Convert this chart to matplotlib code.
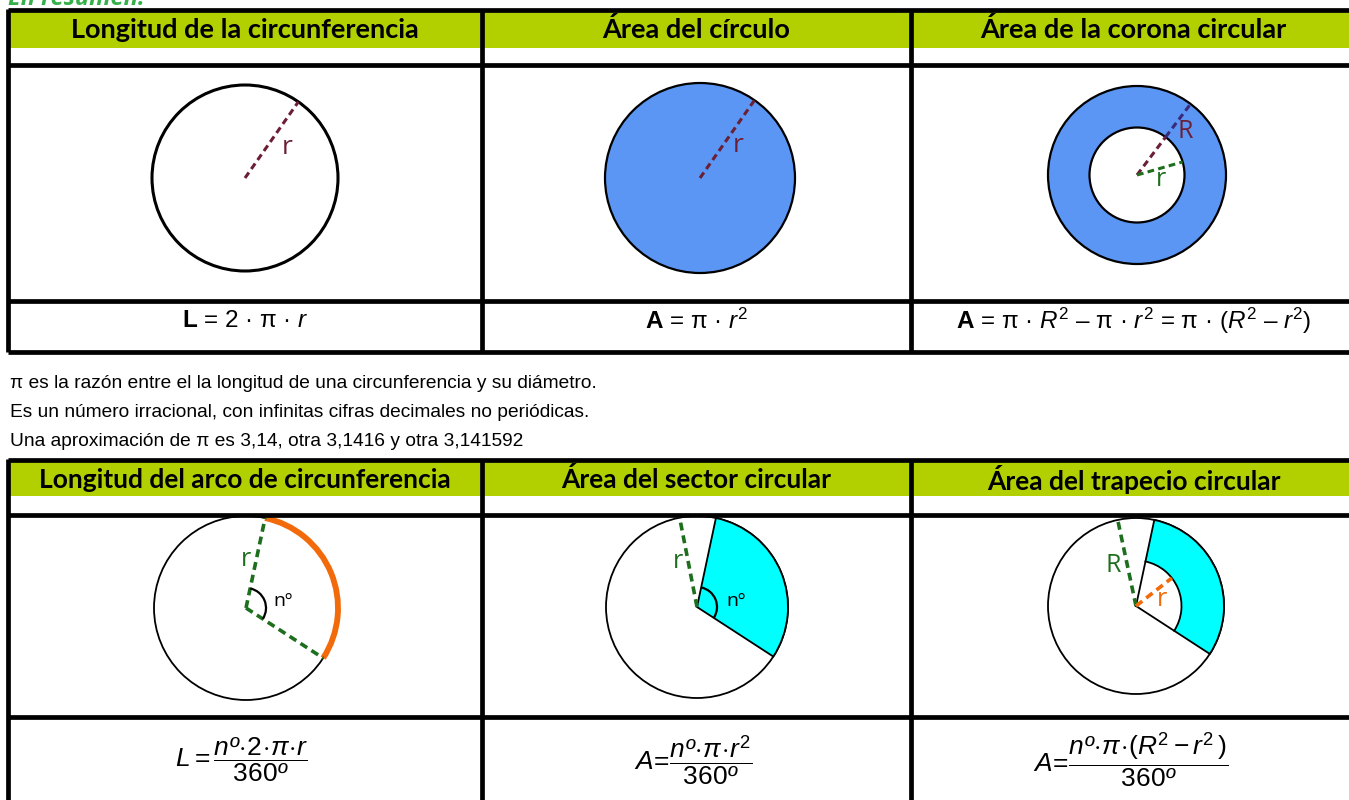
import numpy as np
import matplotlib
matplotlib.use("Agg")
import matplotlib.pyplot as plt
from matplotlib import font_manager
from matplotlib.patches import Circle, Wedge, Rectangle, Arc

installed = {f.name for f in font_manager.fontManager.ttflist}
NARROW = "Liberation Sans Narrow" if "Liberation Sans Narrow" in installed else None

plt.rcParams["mathtext.fontset"] = "custom"
plt.rcParams["mathtext.rm"] = "Liberation Sans"
plt.rcParams["mathtext.it"] = "Liberation Sans:italic"
plt.rcParams["mathtext.bf"] = "Liberation Sans:bold"

# --- content ---
title = "En resumen:"
headers_top = ["Longitud de la circunferencia", "Área del círculo", "Área de la corona circular"]
headers_bottom = ["Longitud del arco de circunferencia", "Área del sector circular", "Área del trapecio circular"]
formulas_top = [
    r"$\mathbf{L}$ = 2 · π · $r$",
    r"$\mathbf{A}$ = π · $r^2$",
    r"$\mathbf{A}$ = π · $R^2$ – π · $r^2$ = π · ($R^2$ – $r^2$)",
]
formulas_bottom = [
    r"$L=\dfrac{nº\!\cdot\!2\!\cdot\!π\!\cdot\!r}{360º}$",
    r"$A\!=\!\dfrac{nº\!\cdot\!π\!\cdot\!r^2}{360º}$",
    r"$A\!=\!\dfrac{nº\!\cdot\!π\!\cdot\!(R^2-r^2\,)}{360º}$",
]
pi_notes = [
    "π es la razón entre el la longitud de una circunferencia y su diámetro.",
    "Es un número irracional, con infinitas cifras decimales no periódicas.",
    "Una aproximación de π es 3,14, otra 3,1416 y otra 3,141592",
]
# sector angle (degrees, screen convention) used in the lower diagrams
sector_start = -33
sector_end = 78

GREEN = "#b2d000"
BLUE = "#5b96f5"
CYAN = "#00ffff"
ORANGE = "#f26a0a"
DKGREEN = "#1d6e1d"
DKRED = "#6b1f35"

fig = plt.figure(figsize=(13.49, 8), dpi=100)
ax = fig.add_axes([0, 0, 1, 1])
ax.set_xlim(0, 1349)
ax.set_ylim(800, 0)
ax.axis("off")

col_x = [8, 482, 911, 1356]
col_c = [(col_x[i] + col_x[i + 1]) / 2 for i in range(3)]
LW = 3.4


def hline(y):
    ax.plot([col_x[0], 1349], [y, y], color="black", lw=LW, solid_capstyle="butt", zorder=5)


def vline(y0, y1, x):
    ax.plot([x, x], [y0, y1], color="black", lw=LW, solid_capstyle="butt", zorder=5)


def pt(cx, cy, r, ang):
    a = np.deg2rad(ang)
    return cx + r * np.cos(a), cy - r * np.sin(a)


def dashed(cx, cy, r, ang, color, lw=2.2, r0=0):
    x0, y0 = pt(cx, cy, r0, ang)
    x1, y1 = pt(cx, cy, r, ang)
    ax.plot([x0, x1], [y0, y1], color=color, lw=lw, ls=(0, (2.2, 1.4)), zorder=3)


# title, mostly cut off at the top as in the original page
ax.text(8, 5, title, fontsize=17, fontweight="bold", fontstyle="italic",
        color="#35b04a", family="Open Sans", va="baseline")

# --- upper block ---
ax.add_patch(Rectangle((col_x[0], 10), 1349, 38, color=GREEN, lw=0))
for i, h in enumerate(headers_top):
    ax.text(col_c[i], 30, h, ha="center", va="center", fontsize=19.5,
            fontweight="bold", family="Lato")
hline(10)
hline(64.5)
hline(300.5)
hline(352)
for x in col_x[:3]:
    vline(8.5, 352, x)

for i, f in enumerate(formulas_top):
    ax.text(col_c[i], 321, f, ha="center", va="center", fontsize=17.5, family="Liberation Sans")

# circle 1
cx, cy, r = 245, 178, 93
ax.add_patch(Circle((cx, cy), r, fill=False, ec="black", lw=2.2))
dashed(cx, cy, r, 55, DKRED)
ax.text(287, 147, "r", color=DKRED, fontsize=19, ha="center", va="center", family="Open Sans")

# circle 2
cx, cy, r = 700, 178, 95
ax.add_patch(Circle((cx, cy), r, fc=BLUE, ec="black", lw=1.6))
dashed(cx, cy, r, 55, DKRED)
ax.text(738, 145, "r", color=DKRED, fontsize=19, ha="center", va="center", family="Open Sans")

# circle 3 - annulus
cx, cy, R, r = 1137, 175, 89, 47.5
ax.add_patch(Circle((cx, cy), R, fc=BLUE, ec="black", lw=1.6))
ax.add_patch(Circle((cx, cy), r, fc="white", ec="black", lw=1.6))
dashed(cx, cy, r, 53, DKRED)
dashed(cx, cy, R, 53, "#3a2a7a", r0=r)
dashed(cx, cy, r, 16, DKGREEN)
ax.text(1185, 131, "R", color=DKRED, fontsize=18, ha="center", va="center", family="Open Sans")
ax.text(1161, 180, "r", color=DKGREEN, fontsize=18, ha="center", va="center", family="Open Sans")

# pi notes
note_kw = dict(fontsize=16, family=[NARROW, "Liberation Sans"]) if NARROW else \
    dict(fontsize=13.8, family="Liberation Sans")
for i, line in enumerate(pi_notes):
    ax.text(10, 383 + 29.5 * i, line, ha="left", va="center", **note_kw)

# --- lower block ---
ax.add_patch(Rectangle((col_x[0], 460), 1349, 36, color=GREEN, lw=0))
for i, h in enumerate(headers_bottom):
    ax.text(col_c[i], 480, h, ha="center", va="center", fontsize=19,
            fontweight="bold", family="Lato")
hline(460)
hline(514.5)
hline(716.5)
for x in col_x[:3]:
    vline(458.5, 800, x)

for i, f in enumerate(formulas_bottom):
    ax.text(col_c[i] - 3, 760, f, ha="center", va="center", fontsize=19)

# arc length
cx, cy, r = 246, 608, 92
ax.add_patch(Circle((cx, cy), r, fill=False, ec="black", lw=1.3, zorder=2))
ax.add_patch(Arc((cx, cy), 2 * r, 2 * r, theta1=-sector_end, theta2=-sector_start,
                 color=ORANGE, lw=4.2, zorder=3))
dashed(cx, cy, r, sector_end, DKGREEN, lw=2.6)
dashed(cx, cy, r, sector_start, DKGREEN, lw=2.6)
ax.add_patch(Arc((cx, cy), 40, 40, theta1=-sector_end, theta2=-sector_start, color="black", lw=1.6, zorder=4))
ax.text(283, 601, "nº", fontsize=14, ha="center", va="center", family="Open Sans")
ax.text(246, 560, "r", color=DKGREEN, fontsize=18, ha="center", va="center", family="Open Sans")

# sector
cx, cy, r = 697, 607, 91
ax.add_patch(Circle((cx, cy), r, fc="white", ec="black", lw=1.3, zorder=2))
ax.add_patch(Wedge((cx, cy), r, -sector_end, -sector_start, fc=CYAN, ec="black", lw=1.3, zorder=2))
dashed(cx, cy, r, 101, DKGREEN, lw=2.6)
ax.add_patch(Arc((cx, cy), 40, 40, theta1=-sector_end, theta2=-sector_start, color="black", lw=1.6, zorder=4))
ax.text(736, 601, "nº", fontsize=14, ha="center", va="center", family="Open Sans")
ax.text(678, 561, "r", color=DKGREEN, fontsize=18, ha="center", va="center", family="Open Sans")

# trapezoid (annular sector)
cx, cy, R, r = 1136, 606, 88, 45.5
ax.add_patch(Circle((cx, cy), R, fc="white", ec="black", lw=1.3, zorder=2))
ax.add_patch(Wedge((cx, cy), R, -sector_end, -sector_start, width=R - r, fc=CYAN, ec="black", lw=1.3, zorder=2))
for a in (sector_start, sector_end):
    x1, y1 = pt(cx, cy, r, a)
    ax.plot([cx, x1], [cy, y1], color="black", lw=1.3, zorder=2)
dashed(cx, cy, R, 102, DKGREEN, lw=2.6)
dashed(cx, cy, r, 38, ORANGE, lw=2.6)
ax.text(1113, 566, "R", color=DKGREEN, fontsize=18, ha="center", va="center", family="Open Sans")
ax.text(1162, 599, "r", color=ORANGE, fontsize=18, ha="center", va="center", family="Open Sans")

fig.savefig("out.png", dpi=100)
